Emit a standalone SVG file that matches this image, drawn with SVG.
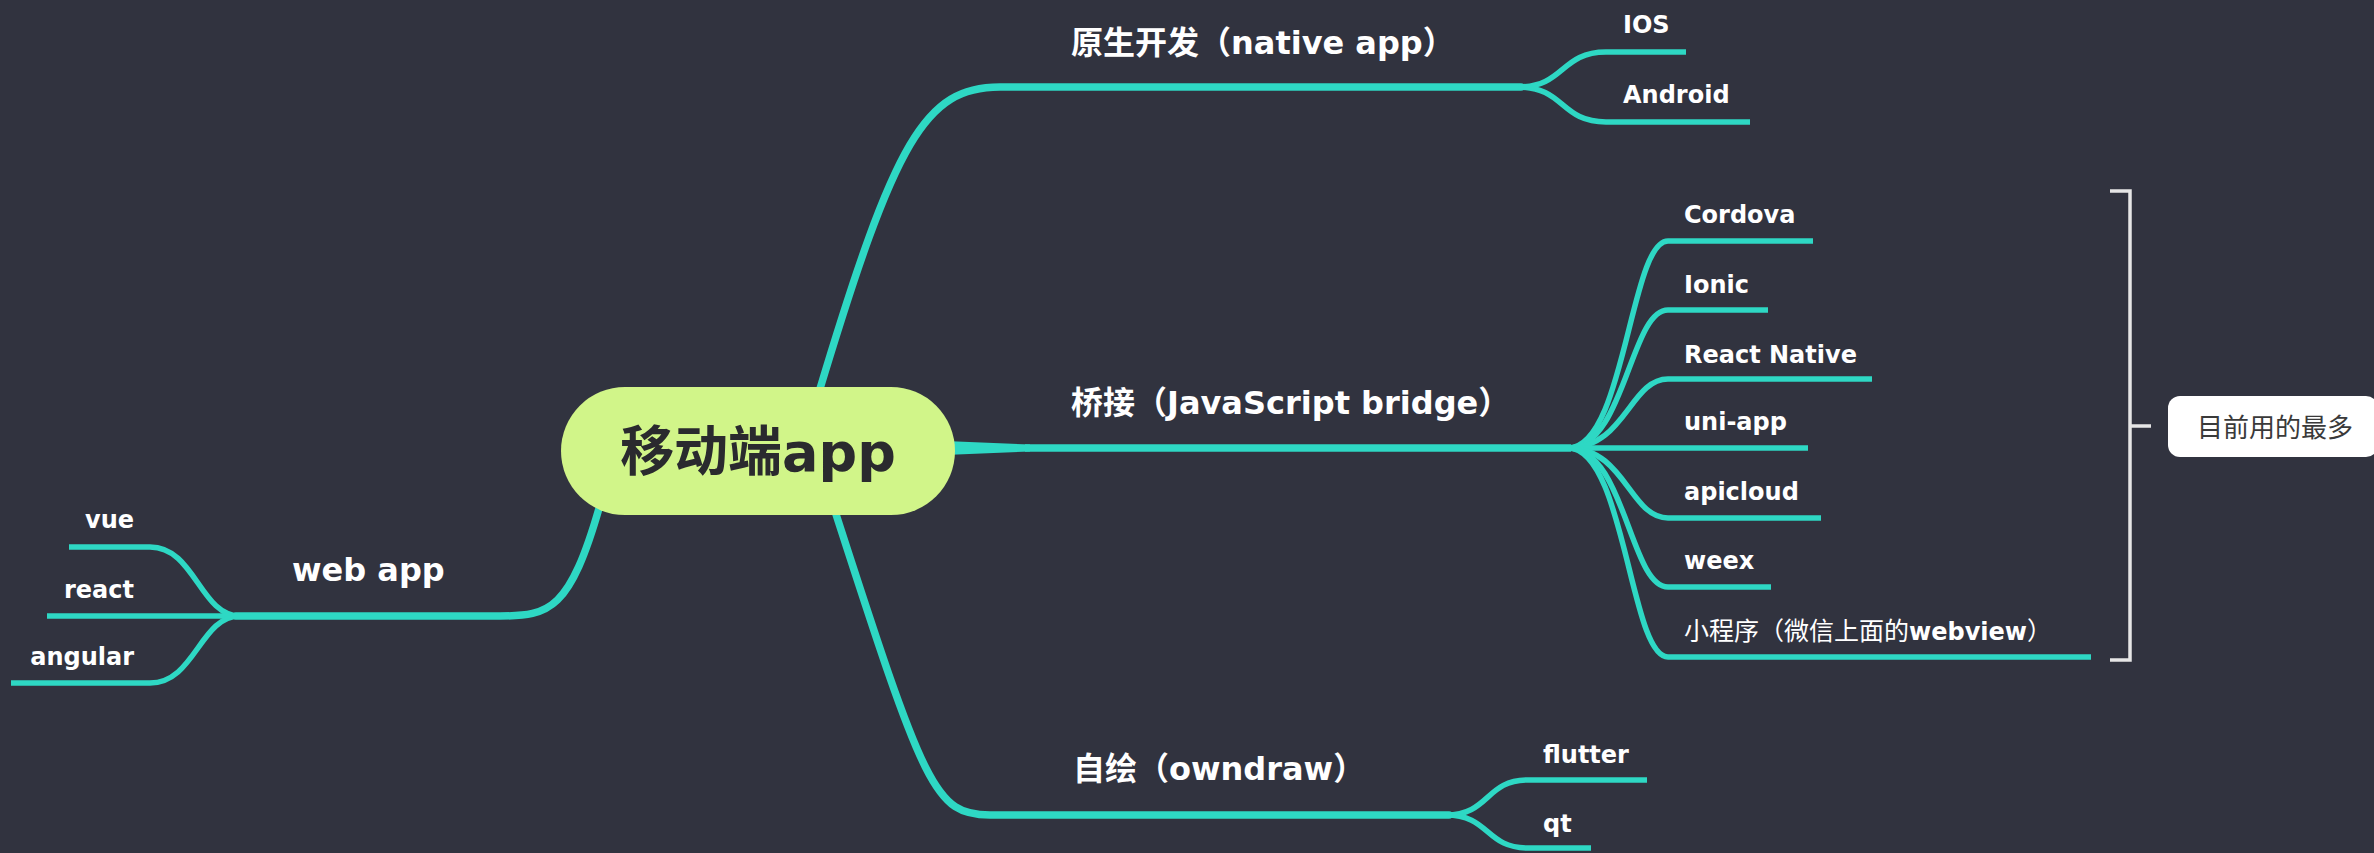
<svg xmlns="http://www.w3.org/2000/svg" width="2374" height="853" viewBox="0 0 2374 853">
<style>
.bg{fill:#31333f}
.main{fill:none;stroke:#2ed8c4;stroke-width:7.5;stroke-linecap:round;stroke-linejoin:round}
.sub{fill:none;stroke:#2ed8c4;stroke-width:5.5;stroke-linecap:butt;stroke-linejoin:round}
.taper{fill:#2ed8c4}
.bracket{fill:none;stroke:#e6e6e6;stroke-width:3.5}
.lbl{font-family:"DejaVu Sans","Noto Sans CJK SC",sans-serif;font-weight:bold;fill:#ffffff}
.m{font-size:32px}
.s{font-size:24px}
.cjkreg{font-family:"Noto Sans CJK SC",sans-serif;font-weight:normal}
.center{font-family:"DejaVu Sans","Noto Sans CJK SC",sans-serif;font-weight:bold;font-size:54px;fill:#2a2a2e}
.note{font-family:"Noto Sans CJK SC","Noto Sans",sans-serif;font-size:26px;fill:#3a3a3a}
</style>
<rect class="bg" x="0" y="0" width="2374" height="853"/>

<g id="connectors">
  <!-- web app -->
  <path class="main" d="M600,505 C570,610 550,616 500,616 L236,616"/>
  <path class="sub" d="M240,616 C200,616 195,547 150,547 L69,547"/>
  <path class="sub" d="M240,616 L47,616"/>
  <path class="sub" d="M240,616 C200,616 195,683 150,683 L11,683"/>
  <!-- native -->
  <path class="main" d="M819,392 C895,140 925,87 1000,87 L1521,87"/>
  <path class="sub" d="M1518,87 C1565,87 1560,52 1606,52 L1686,52"/>
  <path class="sub" d="M1518,87 C1565,87 1560,122 1606,122 L1750,122"/>
  <!-- bridge -->
  <path class="taper" d="M945,441 L1030,444.5 L1030,451.5 L945,455 Z"/>
  <path class="main" d="M1025,448 L1571,448" style="stroke-linecap:butt"/>
  <path class="sub" d="M1568,448 C1625,448 1630,241 1668,241 L1813,241"/>
  <path class="sub" d="M1568,448 C1625,448 1630,310 1668,310 L1768,310"/>
  <path class="sub" d="M1568,448 C1625,448 1630,379 1668,379 L1872,379"/>
  <path class="sub" d="M1568,448 L1808,448"/>
  <path class="sub" d="M1568,448 C1625,448 1630,518 1668,518 L1821,518"/>
  <path class="sub" d="M1568,448 C1625,448 1630,587 1668,587 L1771,587"/>
  <path class="sub" d="M1568,448 C1625,448 1630,657 1668,657 L2091,657"/>
  <!-- owndraw -->
  <path class="main" d="M834,508 C925,790 935,815 990,815 L1449,815"/>
  <path class="sub" d="M1446,815 C1490,815 1485,780 1528,780 L1647,780"/>
  <path class="sub" d="M1446,815 C1490,815 1485,848 1528,848 L1591,848"/>
  <!-- summary bracket -->
  <path class="bracket" d="M2110,191 L2130,191 L2130,660 L2110,660 M2130,426 L2151,426"/>
</g>

<g id="root">
  <rect x="561" y="387" width="394" height="128" rx="64" ry="64" fill="#d1f589"/>
  <text class="center" x="758" y="471" text-anchor="middle">移动端app</text>
</g>

<g id="native">
  <text class="lbl m" x="1071" y="54">原生开发（native app）</text>
</g>
<g id="ios"><text class="lbl s" x="1623" y="33">IOS</text></g>
<g id="android"><text class="lbl s" x="1623" y="103">Android</text></g>

<g id="bridge">
  <text class="lbl m" x="1071" y="414">桥接（JavaScript bridge）</text>
</g>
<g id="cordova"><text class="lbl s" x="1684" y="223">Cordova</text></g>
<g id="ionic"><text class="lbl s" x="1684" y="293">Ionic</text></g>
<g id="reactnative"><text class="lbl s" x="1684" y="363">React Native</text></g>
<g id="uniapp"><text class="lbl s" x="1684" y="430">uni-app</text></g>
<g id="apicloud"><text class="lbl s" x="1684" y="500">apicloud</text></g>
<g id="weex"><text class="lbl s" x="1684" y="569">weex</text></g>
<g id="miniprogram"><text class="lbl s" x="1684" y="640"><tspan class="cjkreg" font-size="25">小程序（微信上面的</tspan>webview<tspan class="cjkreg" font-size="25">）</tspan></text></g>

<g id="owndraw">
  <text class="lbl m" x="1073" y="780">自绘（owndraw）</text>
</g>
<g id="flutter"><text class="lbl s" x="1543" y="763">flutter</text></g>
<g id="qt"><text class="lbl s" x="1543" y="832">qt</text></g>

<g id="webapp">
  <text class="lbl m" x="292" y="581">web app</text>
</g>
<g id="vue"><text class="lbl s" x="134" y="528" text-anchor="end">vue</text></g>
<g id="react"><text class="lbl s" x="134" y="598" text-anchor="end">react</text></g>
<g id="angular"><text class="lbl s" x="134" y="665" text-anchor="end">angular</text></g>

<g id="summary">
  <rect x="2168" y="396" width="210" height="61" rx="12" ry="12" fill="#ffffff"/>
  <text class="note" x="2197" y="437">目前用的最多</text>
</g>
</svg>
